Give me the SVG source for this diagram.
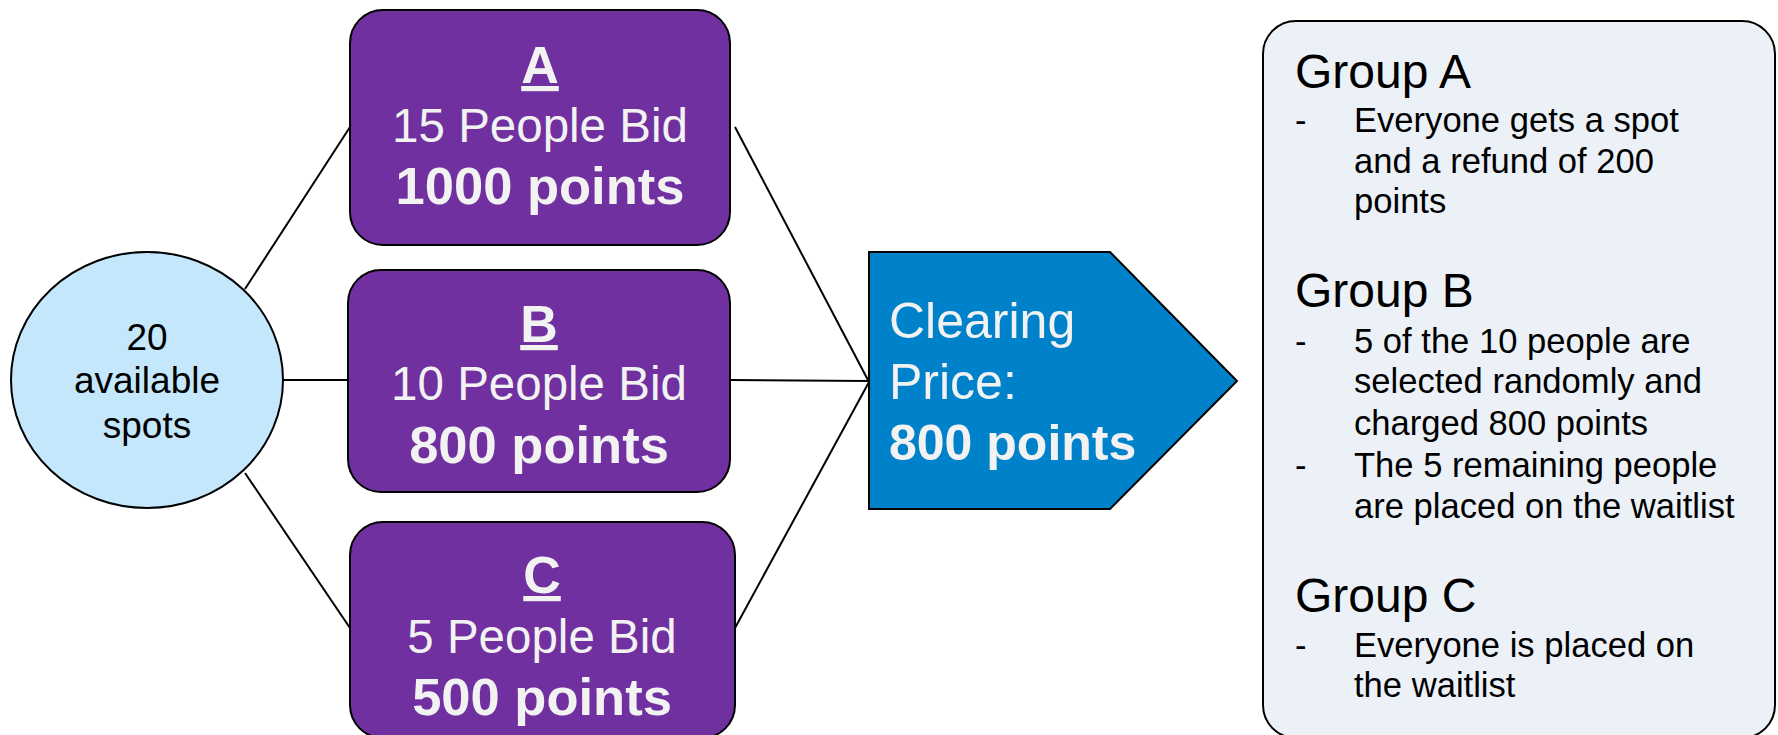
<svg xmlns="http://www.w3.org/2000/svg" width="1778" height="735" viewBox="0 0 1778 735">
<style>
.box{fill:#7030A0;stroke:#000;stroke-width:2}
.wt{fill:#F2F2F2;font-family:"Liberation Sans",Arial,sans-serif;text-anchor:middle}
.reg{font-size:47.5px}
.bold{font-size:52.5px;font-weight:bold}
.hd{font-size:52px;font-weight:bold;text-decoration:underline}
.bk{fill:#000;font-family:"Liberation Sans",Arial,sans-serif}
.bl{font-size:34.6px}
.gh{font-size:48px}
.conn line{stroke:#000;stroke-width:2}
</style>
<rect width="1778" height="735" fill="#fff"/>
<g class="conn" id="connectors">
<line x1="245" y1="289" x2="350" y2="127"/>
<line x1="283" y1="380" x2="348" y2="380"/>
<line x1="245" y1="473" x2="350" y2="628"/>
<line x1="735" y1="127" x2="869" y2="382"/>
<line x1="731" y1="380" x2="869" y2="381"/>
<line x1="735" y1="628" x2="869" y2="382"/>
</g>
<g id="spots">
<ellipse cx="147" cy="380" rx="136" ry="128" fill="#C4E7FB" stroke="#000" stroke-width="2"/>
<text class="bk" font-size="37" text-anchor="middle" x="147" y="350">20</text>
<text class="bk" font-size="37" text-anchor="middle" x="147" y="393">available</text>
<text class="bk" font-size="37" text-anchor="middle" x="147" y="438">spots</text>
</g>
<g id="boxA">
<rect class="box" x="350" y="10" width="380" height="235" rx="33"/>
<text class="wt hd" x="540" y="83">A</text>
<text class="wt reg" x="540" y="142">15 People Bid</text>
<text class="wt bold" x="540" y="204">1000 points</text>
</g>
<g id="boxB">
<rect class="box" x="348" y="270" width="382" height="222" rx="33"/>
<text class="wt hd" x="539" y="342">B</text>
<text class="wt reg" x="539" y="400">10 People Bid</text>
<text class="wt bold" x="539" y="463">800 points</text>
</g>
<g id="boxC">
<rect class="box" x="350" y="522" width="385" height="216" rx="33"/>
<text class="wt hd" x="542" y="593">C</text>
<text class="wt reg" x="542" y="653">5 People Bid</text>
<text class="wt bold" x="542" y="715">500 points</text>
</g>
<g id="clearing">
<polygon points="869,252 1110,252 1237,381 1110,509 869,509" fill="#0082CA" stroke="#000" stroke-width="2"/>
<text class="wt" font-size="50" x="889" y="338" style="text-anchor:start">Clearing</text>
<text class="wt" font-size="50" x="889" y="399" style="text-anchor:start">Price:</text>
<text class="wt" font-size="50" font-weight="bold" x="889" y="460" style="text-anchor:start">800 points</text>
</g>
<g id="outcomes">
<rect x="1263" y="21" width="512" height="717" rx="33" fill="#ECF1F8" stroke="#000" stroke-width="2"/>
<g class="bk">
<text class="gh" x="1295" y="88">Group A</text>
<text class="bl" x="1295" y="132">-</text>
<text class="bl" x="1354" y="132">Everyone gets a spot</text>
<text class="bl" x="1354" y="173">and a refund of 200</text>
<text class="bl" x="1354" y="213">points</text>
<text class="gh" x="1295" y="307">Group B</text>
<text class="bl" x="1295" y="353">-</text>
<text class="bl" x="1354" y="353">5 of the 10 people are</text>
<text class="bl" x="1354" y="393">selected randomly and</text>
<text class="bl" x="1354" y="435">charged 800 points</text>
<text class="bl" x="1295" y="477">-</text>
<text class="bl" x="1354" y="477">The 5 remaining people</text>
<text class="bl" x="1354" y="518">are placed on the waitlist</text>
<text class="gh" x="1295" y="612">Group C</text>
<text class="bl" x="1295" y="657">-</text>
<text class="bl" x="1354" y="657">Everyone is placed on</text>
<text class="bl" x="1354" y="697">the waitlist</text>
</g>
</g>
</svg>
